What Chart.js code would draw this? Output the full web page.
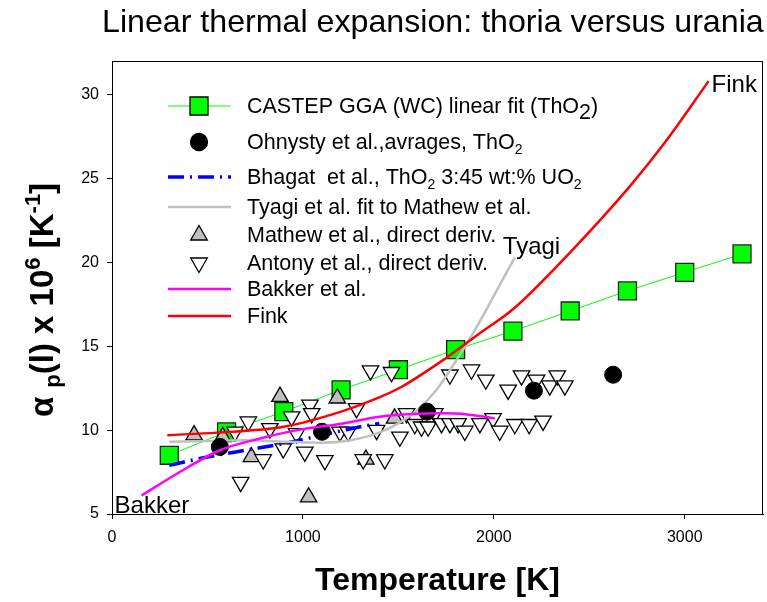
<!DOCTYPE html>
<html>
<head>
<meta charset="utf-8">
<script src="https://cdn.jsdelivr.net/npm/chart.js@4/dist/chart.umd.min.js"></script>
<style>
  html, body { margin: 0; padding: 0; background: #fff; }
  #wrap { width: 767px; height: 602px; }
</style>
</head>
<body>
<div id="wrap"><canvas id="chart" width="767" height="602"></canvas></div>
<script>
// values (T in K, alpha x 10^6 in 1/K)
const castepT = [300, 600, 900, 1200, 1500, 1800, 2100, 2400, 2700, 3000, 3300];
const castepV = [8.5, 9.9, 11.1, 12.4, 13.6, 14.8, 15.9, 17.1, 18.3, 19.4, 20.5];

const ohnystyT = [565, 1100, 1650, 2210, 2625];
const ohnystyV = [9.0, 9.9, 11.1, 12.35, 13.3];

const bhagatT = [300, 500, 700, 900, 1100, 1300, 1400];
const bhagatV = [7.9, 8.4, 8.8, 9.2, 9.7, 10.2, 10.4];

const tyagiT = [300, 500, 700, 900, 1100, 1250, 1400, 1500, 1600, 1700, 1800, 1900, 2000, 2110];
const tyagiV = [9.3, 9.35, 9.4, 9.3, 9.25, 9.4, 9.85, 10.4, 11.2, 12.4, 14.1, 15.95, 18.0, 20.3];

const mathewT = [430, 580, 730, 880, 1030, 1180, 1330, 1480];
const mathewV = [9.7, 9.6, 8.4, 12.0, 6.0, 11.9, 8.25, 10.7];

const antonyT = [644, 674, 714, 792, 827, 897, 941, 967, 1010, 1037,
                 1046, 1115, 1194, 1237, 1281, 1316, 1354, 1386, 1429, 1464,
                 1508, 1543, 1586, 1621, 1656, 1691, 1726, 1770, 1770, 1813,
                 1848, 1883, 1927, 1958, 1996, 2031, 2075, 2110, 2145, 2185,
                 2224, 2258, 2293, 2332, 2372];
const antonyV = [9.9, 6.9, 10.5, 8.25, 10.1, 8.9, 10.8, 9.8, 8.7, 11.5,
                 11.0, 8.2, 9.9, 9.9, 11.3, 8.25, 13.55, 10.0, 8.25, 13.45,
                 9.6, 11.0, 10.35, 10.2, 10.2, 11.0, 10.4, 13.3, 10.4, 10.4,
                 9.95, 13.6, 10.4, 13.0, 10.7, 9.95, 12.4, 10.35, 13.25, 10.35,
                 13.0, 10.55, 12.65, 13.25, 12.65];

const bakkerT = [155, 340, 565, 775, 970, 1210, 1440, 1730, 1850, 2005];
const bakkerV = [6.1, 7.4, 8.8, 9.5, 10.0, 10.4, 10.85, 11.0, 10.95, 10.7];

const finkT = [290, 550, 900, 1200, 1400, 1520, 1750, 1930, 2100, 2400, 2710, 2900, 3125];
const finkV = [9.7, 9.85, 10.2, 11.1, 11.95, 12.6, 14.3, 15.8, 17.2, 20.6, 24.5, 27.2, 30.8];

const xTicks = [0, 1000, 2000, 3000];
const yTicks = [5, 10, 15, 20, 25, 30];

const FONT = "'Liberation Sans', Arial, sans-serif";

function pts(xs, ys) {
    return xs.map((x, i) => ({ x: x, y: ys[i] }));
}

// draw text pieces in a row, each with its own size / vertical shift
function richText(ctx, x, y, parts, bold) {
    let cx = x;
    parts.forEach(p => {
        ctx.font = (bold ? 'bold ' : '') + p.size + 'px ' + FONT;
        ctx.fillText(p.t, cx, y + (p.dy || 0));
        cx += ctx.measureText(p.t).width;
    });
    return cx - x;
}
function richWidth(ctx, parts, bold) {
    let w = 0;
    parts.forEach(p => {
        ctx.font = (bold ? 'bold ' : '') + p.size + 'px ' + FONT;
        w += ctx.measureText(p.t).width;
    });
    return w;
}

function marker(ctx, kind, x, y) {
    ctx.save();
    ctx.lineWidth = 1.3;
    ctx.strokeStyle = '#000';
    ctx.beginPath();
    if (kind === 'square') {
        ctx.fillStyle = '#00ff00';
        ctx.rect(x - 9, y - 9, 18, 18);
    } else if (kind === 'circle') {
        ctx.fillStyle = '#000';
        ctx.arc(x, y, 8.5, 0, Math.PI * 2);
    } else if (kind === 'up') {
        ctx.fillStyle = '#c0c0c0';
        ctx.moveTo(x, y - 9.5); ctx.lineTo(x + 8.3, y + 5); ctx.lineTo(x - 8.3, y + 5); ctx.closePath();
    } else if (kind === 'down') {
        ctx.fillStyle = '#fff';
        ctx.moveTo(x, y + 9.5); ctx.lineTo(x + 8.3, y - 5); ctx.lineTo(x - 8.3, y - 5); ctx.closePath();
    }
    ctx.fill();
    ctx.stroke();
    ctx.restore();
}

function sampleLine(ctx, color, width, dash, y) {
    ctx.save();
    ctx.strokeStyle = color;
    ctx.lineWidth = width;
    ctx.setLineDash(dash || []);
    ctx.beginPath();
    ctx.moveTo(168, y);
    ctx.lineTo(231, y);
    ctx.stroke();
    ctx.restore();
}

const decor = {
    id: 'decor',
    afterDraw(chart) {
        const ctx = chart.ctx;
        const ca = chart.chartArea;
        const xs = chart.scales.x, ys = chart.scales.y;
        ctx.save();

        // frame
        ctx.strokeStyle = '#000';
        ctx.lineWidth = 1;
        ctx.strokeRect(Math.round(ca.left) + 0.5, Math.round(ca.top) + 0.5,
                       Math.round(ca.right - ca.left) - 1, Math.round(ca.bottom - ca.top));

        ctx.fillStyle = '#000';
        ctx.textBaseline = 'alphabetic';

        // title
        const title = 'Linear thermal expansion: thoria versus urania';
        ctx.font = '28px ' + FONT;
        const tw = ctx.measureText(title).width;
        const ts = 28 * 662 / tw;
        ctx.font = ts + 'px ' + FONT;
        ctx.fillText(title, 102, 32);

        // x axis title
        ctx.font = 'bold 32px ' + FONT;
        ctx.textAlign = 'center';
        ctx.fillText('Temperature [K]', (ca.left + ca.right) / 2, 590);
        ctx.textAlign = 'left';

        // y axis title, rotated
        const yParts = [
            { t: 'α ', size: 33 },
            { t: 'p', size: 22, dy: 7 },
            { t: '(l) x 10', size: 33 },
            { t: '6', size: 22, dy: -13 },
            { t: ' [K', size: 33 },
            { t: '-1', size: 22, dy: -13 },
            { t: ']', size: 33 }
        ];
        ctx.save();
        ctx.translate(53, 300);
        ctx.rotate(-Math.PI / 2);
        const yw = richWidth(ctx, yParts, true);
        richText(ctx, -yw / 2, 0, yParts, true);
        ctx.restore();

        // curve labels
        ctx.font = '24px ' + FONT;
        const fEnd = finkT.length - 1;
        ctx.fillText('Fink', xs.getPixelForValue(finkT[fEnd]) + 3, ys.getPixelForValue(finkV[fEnd]) + 11);
        const tEnd = tyagiT.length - 1;
        ctx.fillText('Tyagi', xs.getPixelForValue(tyagiT[tEnd]) - 12, ys.getPixelForValue(tyagiV[tEnd]) - 3);
        ctx.fillText('Bakker', xs.getPixelForValue(bakkerT[0]) - 27, ys.getPixelForValue(bakkerV[0]) + 17);

        // legend
        const tx = 247, fs = 21.5;
        const rows = [106, 142, 177, 207, 235, 263, 289, 316];
        ctx.fillStyle = '#000';

        sampleLine(ctx, '#00ff00', 1, null, rows[0]);
        marker(ctx, 'square', 199, rows[0]);
        richText(ctx, tx, rows[0] + 7, [
            { t: 'CASTEP GGA (WC) linear fit (ThO', size: fs },
            { t: '2', size: fs, dy: 6 },
            { t: ')', size: fs }
        ]);

        marker(ctx, 'circle', 199, rows[1]);
        richText(ctx, tx, rows[1] + 7, [
            { t: 'Ohnysty et al.,avrages, ThO', size: fs },
            { t: '2', size: 14, dy: 5 }
        ]);

        sampleLine(ctx, '#0000ff', 3.5, [16, 6, 2, 6], rows[2]);
        richText(ctx, tx, rows[2] + 7, [
            { t: 'Bhagat  et al., ThO', size: fs },
            { t: '2', size: 14, dy: 5 },
            { t: ' 3:45 wt:% UO', size: fs },
            { t: '2', size: 14, dy: 5 }
        ]);

        sampleLine(ctx, '#c0c0c0', 2.5, null, rows[3]);
        richText(ctx, tx, rows[3] + 7, [{ t: 'Tyagi et al. fit to Mathew et al.', size: fs }]);

        marker(ctx, 'up', 199, rows[4]);
        richText(ctx, tx, rows[4] + 7, [{ t: 'Mathew et al., direct deriv.', size: fs }]);

        marker(ctx, 'down', 199, rows[5]);
        richText(ctx, tx, rows[5] + 7, [{ t: 'Antony et al., direct deriv.', size: fs }]);

        sampleLine(ctx, '#ff00ff', 2.5, null, rows[6]);
        richText(ctx, tx, rows[6] + 7, [{ t: 'Bakker et al.', size: fs }]);

        sampleLine(ctx, '#ff0000', 2.5, null, rows[7]);
        richText(ctx, tx, rows[7] + 7, [{ t: 'Fink', size: fs }]);

        ctx.restore();
    }
};

const curveOpts = { showLine: true, pointRadius: 0, cubicInterpolationMode: 'monotone', fill: false };

new Chart(document.getElementById('chart'), {
    type: 'scatter',
    data: {
        datasets: [
            Object.assign({ label: 'Fink', data: pts(finkT, finkV), borderColor: '#ff0000', borderWidth: 2.5 }, curveOpts),
            Object.assign({ label: 'Bakker et al.', data: pts(bakkerT, bakkerV), borderColor: '#ff00ff', borderWidth: 2.5 }, curveOpts),
            {
                label: 'Ohnysty et al.', data: pts(ohnystyT, ohnystyV),
                pointStyle: 'circle', pointRadius: 8.5, backgroundColor: '#000', borderColor: '#000', borderWidth: 1
            },
            Object.assign({ label: 'Tyagi et al.', data: pts(tyagiT, tyagiV), borderColor: '#c0c0c0', borderWidth: 2.5 }, curveOpts),
            Object.assign({ label: 'Bhagat et al.', data: pts(bhagatT, bhagatV), borderColor: '#0000ff', borderWidth: 3.5, borderDash: [16, 6, 2, 6] }, curveOpts),
            {
                label: 'Antony et al.', data: pts(antonyT, antonyV),
                pointStyle: 'triangle', rotation: 180, pointRadius: 9.5,
                backgroundColor: '#ffffff', borderColor: '#000', borderWidth: 1.3
            },
            {
                label: 'Mathew et al.', data: pts(mathewT, mathewV),
                pointStyle: 'triangle', pointRadius: 9.5,
                backgroundColor: '#c0c0c0', borderColor: '#000', borderWidth: 1.3
            },
            {
                label: 'CASTEP', data: pts(castepT, castepV), showLine: true,
                borderColor: '#00ff00', borderWidth: 1,
                pointStyle: 'rect', pointRadius: 12.7,
                pointBackgroundColor: '#00ff00', pointBorderColor: '#222', pointBorderWidth: 1.3
            }
        ]
    },
    options: {
        responsive: false,
        animation: false,
        devicePixelRatio: 1,
        layout: { autoPadding: false, padding: { top: 61, right: 4, left: 0, bottom: 0 } },
        plugins: { legend: { display: false }, title: { display: false }, tooltip: { enabled: false } },
        scales: {
            x: {
                type: 'linear', min: 0, max: 3410,
                afterFit(scale) { scale.height = 88; scale.paddingLeft = 0; scale.paddingRight = 0; },
                afterBuildTicks(scale) { scale.ticks = xTicks.map(v => ({ value: v })); },
                grid: { drawOnChartArea: false, tickLength: 5, color: '#000' },
                border: { display: true, color: '#000' },
                ticks: { color: '#000', padding: 9, maxRotation: 0, font: { family: FONT, size: 16 }, callback: v => String(v) }
            },
            y: {
                type: 'linear', min: 5, max: 32,
                afterFit(scale) { scale.width = 112; scale.paddingTop = 0; scale.paddingBottom = 0; },
                afterBuildTicks(scale) { scale.ticks = yTicks.map(v => ({ value: v })); },
                grid: { drawOnChartArea: false, tickLength: 5, color: '#000' },
                border: { display: true, color: '#000' },
                ticks: { color: '#000', padding: 8, font: { family: FONT, size: 16 }, callback: v => String(v) }
            }
        }
    },
    plugins: [decor]
});
</script>
</body>
</html>
